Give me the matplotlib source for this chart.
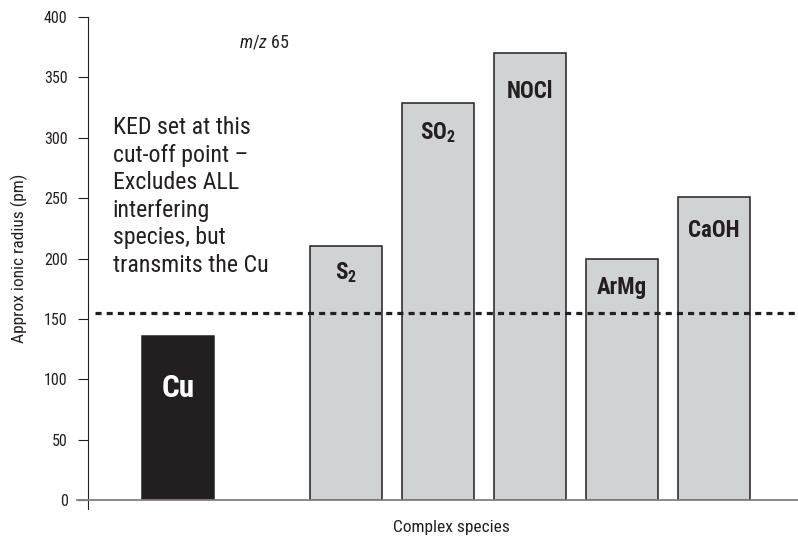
import matplotlib
matplotlib.use('Agg')
import matplotlib.pyplot as plt

# 데이터
species = ['Cu', 'S$_2$', 'SO$_2$', 'NOCl', 'ArMg', 'CaOH']
radius = [136, 210, 329, 370, 200, 251]
cutoff = 155
yticks = [0, 50, 100, 150, 200, 250, 300, 350, 400]

fnt = 'Roboto Condensed'
plt.rcParams['font.family'] = [fnt, 'DejaVu Sans']
plt.rcParams['mathtext.fontset'] = 'custom'
plt.rcParams['mathtext.rm'] = fnt
plt.rcParams['mathtext.it'] = fnt + ':italic'
plt.rcParams['mathtext.bf'] = fnt + ':bold'

fig = plt.figure(figsize=(7.98, 5.4), dpi=100)
ax = fig.add_axes([0.110, 0.074, 0.890, 0.8945])

# 막대 위치 (Cu 다음에 간격)
xpos = [0] + [1.826 + i for i in range(5)]
colors = ['#231f20'] + ['#d1d2d4'] * 5

ax.bar(xpos, radius, width=0.78, color=colors, edgecolor='#231f20', linewidth=1.1, zorder=2)

ax.axhline(cutoff, xmin=0.01, xmax=1, color='#231f20', lw=2.3,
           linestyle=(0, (1.9, 1.6)), zorder=3)

# 막대 안 글자
offsets = [43, 22, 25, 32, 24, 28]
for i in range(len(species)):
    col = 'white' if i == 0 else '#231f20'
    size = 22.5 if i == 0 else 16.5
    lab = species[i].replace('$_2$', '$_\\mathbf{2}$')
    ax.text(xpos[i], radius[i] - offsets[i], lab, ha='center', va='center',
            color=col, fontsize=size, fontweight='bold', zorder=4)

ax.text(0.94, 379, '$\\it{m/z}$ 65', fontsize=13, color='#231f20', ha='center', va='center')
ax.text(-0.707, 318, 'KED set at this\ncut-off point –\nExcludes ALL\ninterfering\nspecies, but\ntransmits the Cu',
        fontsize=17.2, color='#231f20', ha='left', va='top', linespacing=1.25)

ax.set_xlim(-0.978, 6.739)
ax.set_ylim(0, 400)
ax.set_yticks(yticks)
ax.set_xticks([])
ax.tick_params(axis='y', length=7.5, width=0.8, labelsize=11.5, pad=7, colors='#231f20')
ax.spines['top'].set_visible(False)
ax.spines['right'].set_visible(False)
ax.spines['left'].set_bounds(-7.5, 400)
ax.spines['left'].set_color('#231f20')
ax.spines['bottom'].set_visible(False)
ax.plot([-1.1, 6.739], [0, 0], color='#808080', lw=1.3, clip_on=False, zorder=5)

ax.set_ylabel('Approx ionic radius (pm)', fontsize=12.5, color='#231f20')
ax.set_xlabel('Complex species', fontsize=12.5, color='#231f20')
ax.xaxis.set_label_coords((452 - 88) / 710, -0.042)
ax.yaxis.set_label_coords(-0.084, 0.5)

fig.savefig('out.png', dpi=100)
